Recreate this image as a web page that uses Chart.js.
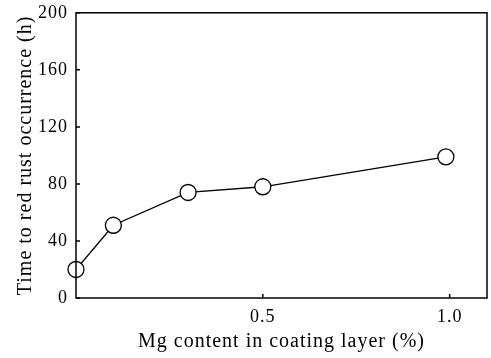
<!DOCTYPE html>
<html>
<head>
<meta charset="utf-8">
<script src="https://cdn.jsdelivr.net/npm/chart.js@4/dist/chart.umd.min.js"></script>
<style>
  body { margin: 0; background: #fff; }
  #wrap { width: 491px; height: 358px; }
</style>
</head>
<body>
<div id="wrap"><canvas id="grafico"></canvas></div>
<script>
const mgContent = [0, 0.1, 0.3, 0.5, 0.99];
const rustHours = [20, 51, 74, 78, 99];
const xTickValues = [0.5, 1.0];
const yTickValues = [0, 40, 80, 120, 160, 200];

const fonte = 'Liberation Serif';

// caixa em volta do gráfico + ticks para dentro
const moldura = {
    id: 'moldura',
    // letras um pouco espaçadas, como na figura original
    beforeUpdate(chart) { chart.ctx.letterSpacing = '1px'; },
    beforeDraw(chart) { chart.ctx.letterSpacing = '1px'; },
    afterDatasetsDraw(chart) {
        const ctx = chart.ctx;
        const a = chart.chartArea;
        const x = chart.scales.x, y = chart.scales.y;
        ctx.save();
        ctx.strokeStyle = '#000';
        ctx.lineWidth = 1.5;
        ctx.beginPath();
        xTickValues.forEach(v => {
            let px = x.getPixelForValue(v);
            ctx.moveTo(px, a.bottom);
            ctx.lineTo(px, a.bottom - 4);
        });
        yTickValues.forEach(v => {
            let py = y.getPixelForValue(v);
            ctx.moveTo(a.left, py);
            ctx.lineTo(a.left + 4, py);
        });
        ctx.stroke();
        ctx.strokeRect(a.left, a.top, a.right - a.left, a.bottom - a.top);
        ctx.restore();
    }
};

let ctx = document.getElementById('grafico');

new Chart(ctx, {
    type: 'scatter',
    data: {
        datasets: [{
            data: mgContent.map((v, i) => ({ x: v, y: rustHours[i] })),
            showLine: true,
            borderColor: '#000',
            borderWidth: 1.3,
            pointRadius: 8,
            pointBorderWidth: 1.3,
            pointBackgroundColor: '#fff',
            pointBorderColor: '#000',
            clip: false
        }]
    },
    options: {
        responsive: true,
        maintainAspectRatio: false,
        animation: false,
        layout: { autoPadding: false, padding: { left: 0, right: 4, top: 0, bottom: 0 } },
        plugins: { legend: { display: false }, tooltip: { enabled: false } },
        scales: {
            x: {
                type: 'linear',
                min: 0,
                max: 1.1,
                afterBuildTicks: s => { s.ticks = xTickValues.map(v => ({ value: v })); },
                afterFit: s => { s.height = 60; },
                grid: { display: false },
                border: { display: false },
                ticks: {
                    color: '#000',
                    padding: 0,
                    font: { family: fonte, size: 18 },
                    callback: v => Number(v).toFixed(1)
                },
                title: {
                    display: true,
                    text: 'Mg content in coating layer (%)',
                    color: '#000',
                    font: { family: fonte, size: 20 },
                    padding: { top: 2 }
                }
            },
            y: {
                min: 0,
                max: 200,
                afterBuildTicks: s => { s.ticks = yTickValues.map(v => ({ value: v })); },
                afterFit: s => { s.width = 76; },
                grid: { display: true, drawOnChartArea: false, drawTicks: true, tickLength: 6, color: 'rgba(0,0,0,0)' },
                border: { display: false },
                ticks: {
                    color: '#000',
                    padding: 2,
                    font: { family: fonte, size: 18 }
                },
                title: {
                    display: true,
                    text: 'Time to red rust occurrence (h)',
                    color: '#000',
                    font: { family: fonte, size: 20 },
                    padding: { top: 14 }
                }
            }
        }
    },
    plugins: [moldura]
});
</script>
</body>
</html>
